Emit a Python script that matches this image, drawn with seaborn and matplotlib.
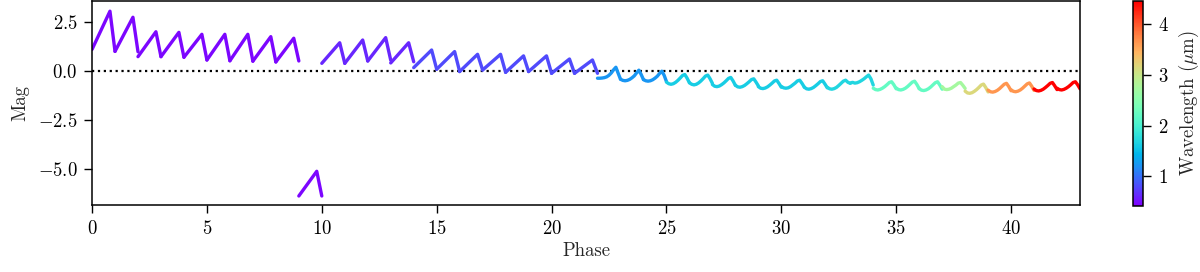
import numpy as np
import pandas as pd
import seaborn as sns
import matplotlib
matplotlib.use("Agg")
import matplotlib.pyplot as plt
from matplotlib.colors import Normalize

# wavelength (micron) of each one-phase segment, segment k covers phase k..k+1
wavelength = [0.45] * 10 + [0.60] * 4 + [0.80] * 8 + [1.22] * 3 + [1.62] * 7 \
    + [1.70] * 2 + [2.22] * 3 + [2.72, 3.16, 3.65, 3.65, 4.46, 4.46]

# segments 0-21: sawtooth, values at phase fractions saw_phase
saw_phase = [0.0, 0.78, 1.0]
saw_start = [1.10, 1.00, 0.73, 0.73, 0.70, 0.56, 0.52, 0.50, 0.46, -6.38,
             0.39, 0.39, 0.51, 0.41, 0.17, 0.09, -0.03, 0.05, -0.07, -0.03,
             -0.12, -0.12]
saw_peak = [3.05, 2.74, 2.00, 1.97, 1.87, 1.87, 1.87, 1.75, 1.67, -5.12,
            1.44, 1.58, 1.70, 1.44, 1.07, 0.99, 0.85, 0.85, 0.77, 0.77,
            0.61, 0.56]
saw_end = [1.00, 0.98, 0.73, 0.70, 0.56, 0.52, 0.50, 0.46, 0.51, -6.38,
           0.39, 0.51, 0.55, 0.47, 0.09, -0.03, 0.05, -0.07, -0.03, -0.12,
           -0.12, -0.12]

# segments 22-42: smoother waves, values at phase fractions wave_phase
wave_phase = [0.0, 0.1, 0.2, 0.3, 0.4, 0.5, 0.6, 0.7, 0.8, 0.9, 1.0]
wave_mag = [
    [-0.37, -0.37, -0.36, -0.34, -0.30, -0.22, -0.10, 0.06, 0.19, -0.12, -0.42],
    [-0.42, -0.48, -0.50, -0.48, -0.43, -0.35, -0.25, -0.10, 0.04, -0.18, -0.44],
    [-0.44, -0.50, -0.52, -0.50, -0.45, -0.37, -0.27, -0.13, -0.01, -0.22, -0.54],
    [-0.57, -0.65, -0.68, -0.65, -0.58, -0.48, -0.36, -0.23, -0.18, -0.37, -0.60],
    [-0.60, -0.68, -0.71, -0.68, -0.61, -0.51, -0.39, -0.26, -0.21, -0.40, -0.63],
    [-0.69, -0.78, -0.80, -0.77, -0.70, -0.61, -0.50, -0.38, -0.33, -0.51, -0.73],
    [-0.73, -0.81, -0.83, -0.80, -0.74, -0.65, -0.55, -0.44, -0.40, -0.57, -0.76],
    [-0.80, -0.88, -0.90, -0.87, -0.81, -0.72, -0.62, -0.51, -0.47, -0.64, -0.83],
    [-0.79, -0.86, -0.88, -0.86, -0.80, -0.71, -0.62, -0.51, -0.47, -0.63, -0.82],
    [-0.83, -0.91, -0.93, -0.90, -0.84, -0.75, -0.65, -0.54, -0.50, -0.67, -0.86],
    [-0.83, -0.91, -0.93, -0.90, -0.84, -0.74, -0.63, -0.52, -0.47, -0.58, -0.63],
    [-0.62, -0.58, -0.62, -0.60, -0.55, -0.48, -0.40, -0.30, -0.21, -0.40, -0.72],
    [-0.88, -0.95, -0.97, -0.94, -0.88, -0.80, -0.70, -0.59, -0.55, -0.71, -0.91],
    [-0.87, -0.95, -0.97, -0.94, -0.88, -0.79, -0.68, -0.57, -0.52, -0.69, -0.90],
    [-0.90, -0.98, -1.00, -0.97, -0.91, -0.82, -0.71, -0.60, -0.55, -0.72, -0.93],
    [-0.80, -0.93, -0.95, -0.93, -0.88, -0.80, -0.72, -0.62, -0.59, -0.73, -0.89],
    [-1.03, -1.12, -1.14, -1.11, -1.04, -0.95, -0.84, -0.72, -0.67, -0.85, -1.07],
    [-0.98, -1.06, -1.08, -1.05, -0.99, -0.90, -0.79, -0.68, -0.63, -0.80, -1.01],
    [-0.96, -1.04, -1.06, -1.03, -0.97, -0.88, -0.77, -0.66, -0.61, -0.78, -0.99],
    [-0.92, -1.00, -1.02, -0.99, -0.93, -0.84, -0.74, -0.63, -0.59, -0.76, -0.95],
    [-0.88, -0.95, -0.97, -0.94, -0.88, -0.80, -0.70, -0.59, -0.55, -0.71, -0.91],
]

rows = []
for k in range(len(saw_start)):
    for p, m in zip(saw_phase, [saw_start[k], saw_peak[k], saw_end[k]]):
        rows.append((k, k + p, m, wavelength[k]))
for j, mags in enumerate(wave_mag):
    k = len(saw_start) + j
    for p, m in zip(wave_phase, mags):
        rows.append((k, k + p, m, wavelength[k]))
df = pd.DataFrame(rows, columns=["seg", "phase", "mag", "wl"])

sns.set_style("ticks")
plt.rcParams["font.family"] = "serif"
plt.rcParams["font.serif"] = ["cmr10", "DejaVu Serif"]
plt.rcParams["mathtext.fontset"] = "cm"
plt.rcParams["axes.formatter.use_mathtext"] = True
plt.rcParams["font.size"] = 13.5
plt.rcParams["axes.edgecolor"] = "black"
plt.rcParams["xtick.color"] = "black"
plt.rcParams["ytick.color"] = "black"

norm = Normalize(vmin=0.41, vmax=4.46)

fig = plt.figure(figsize=(12, 2.72), dpi=100)
ax = fig.add_axes([0.0767, 0.2463, 0.8233, 0.75])
cax = fig.add_axes([0.9442, 0.2426, 0.0083, 0.7537])

ax.axhline(0, color="black", ls=":", lw=1.6, zorder=1)
sns.lineplot(data=df, x="phase", y="mag", hue="wl", units="seg",
             estimator=None, sort=False, palette="rainbow", hue_norm=norm,
             legend=False, lw=2.4, ax=ax, zorder=2)

ax.set_xlim(0, 43)
ax.set_ylim(-6.84, 3.57)
ax.set_yticks([-5.0, -2.5, 0.0, 2.5])
ax.tick_params(labelsize=13.5, length=5.5, width=1.0, pad=5)
ax.set_xlabel("Phase", fontsize=13.5, labelpad=3)
ax.set_ylabel("Mag", fontsize=13.5, labelpad=6)
for s in ax.spines.values():
    s.set_visible(True)
    s.set_linewidth(1.1)

sm = plt.cm.ScalarMappable(norm=norm, cmap="rainbow")
cb = fig.colorbar(sm, cax=cax)
cb.set_ticks([1, 2, 3, 4])
cb.ax.tick_params(labelsize=13.5, length=5.5, width=1.0, pad=5)
cb.outline.set_linewidth(1.1)
cb.set_label(r"Wavelength ($\mu$m)", fontsize=13.5, labelpad=6)

fig.savefig("out.png", dpi=100)
